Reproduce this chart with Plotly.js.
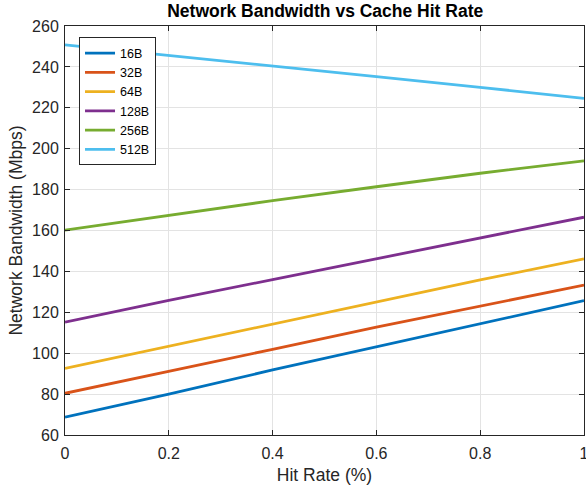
<!DOCTYPE html>
<html>
<head>
<meta charset="utf-8">
<script src="https://cdn.plot.ly/plotly-3.0.1.min.js"></script>
<style>html,body{margin:0;padding:0;background:#fff;}#chart{width:586px;height:486px;}</style>
</head>
<body>
<div id="chart"></div>
<script>
const hitRate = [0, 0.2, 0.4, 0.6, 0.8, 1.0];
const seriesNames = ["16B", "32B", "64B", "128B", "256B", "512B"];
const bw16 = [68.7, 80.0, 91.8, 103.2, 114.5, 125.7];
const bw32 = [80.4, 91.3, 101.9, 112.7, 122.9, 133.3];
const bw64 = [92.6, 103.4, 114.3, 125.3, 135.8, 146.1];
const bw128 = [115.2, 125.8, 136.0, 146.2, 156.4, 166.5];
const bw256 = [160.2, 167.4, 174.6, 181.4, 188.0, 194.1];
const bw512 = [250.8, 245.7, 240.4, 235.2, 230.0, 224.6];
const xTicks = [0, 0.2, 0.4, 0.6, 0.8, 1];
const xTickLabels = ["0", "0.2", "0.4", "0.6", "0.8", "1"];
const yTicks = [60, 80, 100, 120, 140, 160, 180, 200, 220, 240, 260];

const colors = ["#0072BD", "#D95319", "#EDB120", "#7E2F8E", "#77AC30", "#4DBEEE"];
const allSeries = [bw16, bw32, bw64, bw128, bw256, bw512];
const FONT = "Liberation Sans, Arial, sans-serif";

const traces = allSeries.map((ys, i) => ({
  x: hitRate, y: ys, name: seriesNames[i], type: "scatter", mode: "lines",
  line: {color: colors[i], width: 2.8}, cliponaxis: true
}));

const axisCommon = {
  showline: true, linecolor: "#262626", linewidth: 1, mirror: "ticks",
  ticks: "inside", ticklen: 5, tickcolor: "#262626",
  showgrid: true, gridcolor: "#e3e3e3", gridwidth: 1, zeroline: false,
  ticklabeloverflow: "allow",
  tickfont: {family: FONT, size: 16, color: "#262626"}
};

const layout = {
  width: 586, height: 486,
  margin: {l: 65, r: 2, t: 26, b: 51},
  paper_bgcolor: "#fff", plot_bgcolor: "#fff",
  title: {text: "<b>Network Bandwidth vs Cache Hit Rate</b>", x: 0.555, xanchor: "center", y: 0.99, yanchor: "top",
          font: {family: FONT, size: 17.5, color: "#000"}},
  xaxis: Object.assign({}, axisCommon, {range: [0, 1], tickvals: xTicks, ticktext: xTickLabels,
          ticklabelstandoff: 4,
          title: {text: "Hit Rate (%)", standoff: 7, font: {family: FONT, size: 17.5, color: "#262626"}}}),
  yaxis: Object.assign({}, axisCommon, {range: [60, 260], tickvals: yTicks,
          ticklabelstandoff: 2,
          title: {text: "Network Bandwidth (Mbps)", standoff: 4, font: {family: FONT, size: 17.5, color: "#262626"}}}),
  legend: {x: 0.027, y: 0.972, xanchor: "left", yanchor: "top", bgcolor: "#fff", bordercolor: "#262626", borderwidth: 1,
           font: {family: FONT, size: 12.5, color: "#000"}, tracegroupgap: 0},
  showlegend: true
};

Plotly.newPlot("chart", traces, layout, {displayModeBar: false, staticPlot: true});
</script>
</body>
</html>
